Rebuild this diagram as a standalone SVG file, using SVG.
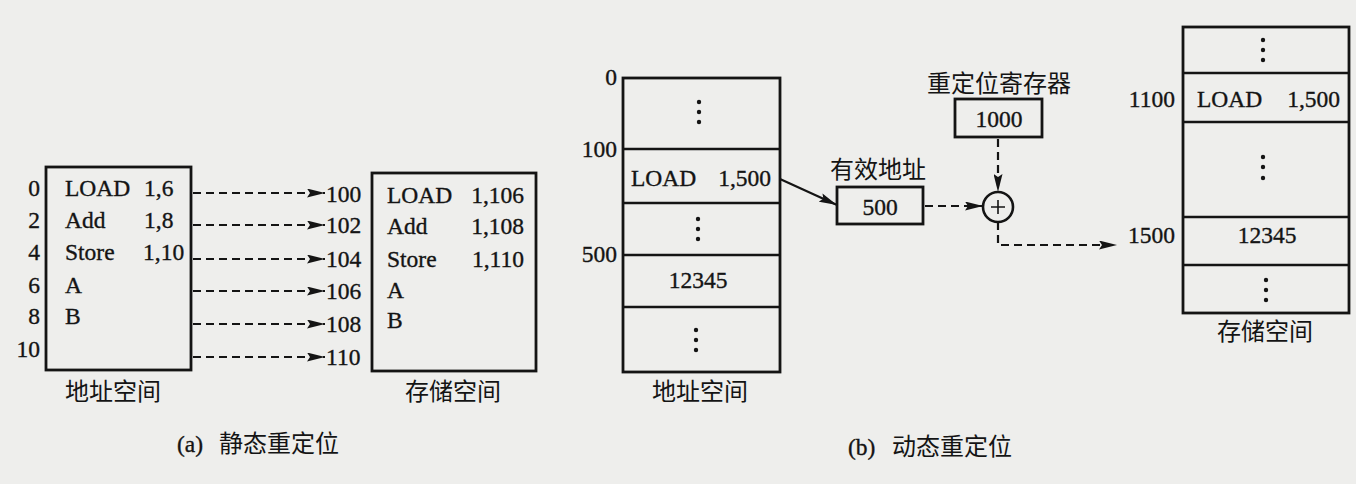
<svg xmlns="http://www.w3.org/2000/svg" width="1356" height="484" viewBox="0 0 1356 484">
  <style>
    .bg { fill: #eeeeec; }
    .box { fill: none; stroke: #141414; stroke-width: 2.8; }
    .div { stroke: #141414; stroke-width: 2.5; }
    .t { font-family: "Liberation Serif", "Noto Sans CJK SC", serif; font-size: 23.5px; fill: #141414; stroke: #141414; stroke-width: 0.35; }
    .r { text-anchor: end; }
    .m { text-anchor: middle; }
    .cjk { font-family: "Noto Sans CJK SC", "Liberation Serif", sans-serif; font-size: 24px; fill: #141414; }
    .dash { fill: none; stroke: #141414; stroke-width: 2.2; stroke-dasharray: 8 5; }
    .solid { fill: none; stroke: #141414; stroke-width: 2.2; }
    .dot { fill: #141414; }
  </style>
  <defs>
    <marker id="arrow" viewBox="0 0 18 9" refX="18" refY="4.5" markerWidth="18" markerHeight="9" markerUnits="userSpaceOnUse" orient="auto">
      <path d="M0,0 L18,4.5 L0,9 L3,4.5 z" fill="#141414"/>
    </marker>
  </defs>

  <rect class="bg" x="0" y="0" width="1356" height="484"/>

  <!-- (a) static relocation: program address space -->
  <g id="static-address-space">
    <rect class="box" x="46" y="167" width="145" height="203"/>
    <text class="t r" x="40" y="196">0</text>
    <text class="t r" x="40" y="228">2</text>
    <text class="t r" x="40" y="260">4</text>
    <text class="t r" x="40" y="293">6</text>
    <text class="t r" x="40" y="324">8</text>
    <text class="t r" x="40" y="357">10</text>
    <text class="t" x="65" y="196">LOAD</text><text class="t" x="144" y="196">1,6</text>
    <text class="t" x="65" y="228">Add</text><text class="t" x="144" y="228">1,8</text>
    <text class="t" x="65" y="260">Store</text><text class="t" x="143" y="260">1,10</text>
    <text class="t" x="65" y="293">A</text>
    <text class="t" x="65" y="324">B</text>
    <text class="cjk m" x="113" y="400">地址空间</text>
  </g>

  <!-- (a) static relocation: physical storage -->
  <g id="static-storage-space">
    <rect class="box" x="372" y="173" width="164" height="198"/>
    <text class="t" x="326" y="202">100</text>
    <text class="t" x="326" y="233">102</text>
    <text class="t" x="326" y="267">104</text>
    <text class="t" x="326" y="299">106</text>
    <text class="t" x="326" y="332">108</text>
    <text class="t" x="326" y="365">110</text>
    <text class="t" x="387" y="203">LOAD</text><text class="t r" x="524" y="203">1,106</text>
    <text class="t" x="387" y="234">Add</text><text class="t r" x="524" y="234">1,108</text>
    <text class="t" x="387" y="267">Store</text><text class="t r" x="524" y="267">1,110</text>
    <text class="t" x="387" y="298">A</text>
    <text class="t" x="387" y="328">B</text>
    <text class="cjk m" x="453" y="400">存储空间</text>
  </g>

  <g id="caption-a">
    <text class="t" x="177" y="452">(a)</text>
    <text class="cjk" x="219" y="452">静态重定位</text>
  </g>

  <!-- (b) dynamic relocation: program address space -->
  <g id="dynamic-address-space">
    <rect class="box" x="623" y="78" width="157" height="294"/>
    <line class="div" x1="623" y1="149" x2="780" y2="149"/>
    <line class="div" x1="623" y1="203" x2="780" y2="203"/>
    <line class="div" x1="623" y1="255" x2="780" y2="255"/>
    <line class="div" x1="623" y1="307" x2="780" y2="307"/>
    <text class="t r" x="617" y="85">0</text>
    <text class="t r" x="617" y="157">100</text>
    <text class="t r" x="617" y="262">500</text>
    <circle class="dot" cx="699" cy="102" r="2.2"/><circle class="dot" cx="699" cy="112" r="2.2"/><circle class="dot" cx="699" cy="122" r="2.2"/>
    <text class="t" x="631" y="186">LOAD</text><text class="t r" x="771" y="186">1,500</text>
    <circle class="dot" cx="698" cy="219" r="2.2"/><circle class="dot" cx="698" cy="229" r="2.2"/><circle class="dot" cx="698" cy="239" r="2.2"/>
    <text class="t m" x="698" y="288">12345</text>
    <circle class="dot" cx="696" cy="330" r="2.2"/><circle class="dot" cx="696" cy="340" r="2.2"/><circle class="dot" cx="696" cy="350" r="2.2"/>
    <text class="cjk m" x="700" y="400">地址空间</text>
  </g>

  <g id="effective-address">
    <text class="cjk" x="830" y="178">有效地址</text>
    <rect class="box" x="837" y="187" width="86" height="37"/>
    <text class="t m" x="880" y="215">500</text>
  </g>

  <g id="relocation-register">
    <text class="cjk" x="927" y="92">重定位寄存器</text>
    <rect class="box" x="955" y="99" width="87" height="38"/>
    <text class="t m" x="999" y="127">1000</text>
  </g>

  <g id="adder">
    <circle cx="998" cy="207" r="15" fill="none" stroke="#141414" stroke-width="2.6"/>
    <path d="M991,207 H1005 M998,200 V214" stroke="#141414" stroke-width="1.6"/>
  </g>

  <!-- (b) dynamic relocation: physical storage -->
  <g id="dynamic-storage-space">
    <rect class="box" x="1183" y="27" width="166" height="286"/>
    <line class="div" x1="1183" y1="73" x2="1349" y2="73"/>
    <line class="div" x1="1183" y1="122" x2="1349" y2="122"/>
    <line class="div" x1="1183" y1="217" x2="1349" y2="217"/>
    <line class="div" x1="1183" y1="265" x2="1349" y2="265"/>
    <circle class="dot" cx="1263" cy="40" r="2.2"/><circle class="dot" cx="1263" cy="50" r="2.2"/><circle class="dot" cx="1263" cy="60" r="2.2"/>
    <text class="t r" x="1175" y="107">1100</text>
    <text class="t" x="1197" y="107">LOAD</text><text class="t r" x="1340" y="107">1,500</text>
    <circle class="dot" cx="1263" cy="157" r="2.2"/><circle class="dot" cx="1263" cy="167" r="2.2"/><circle class="dot" cx="1263" cy="178" r="2.2"/>
    <text class="t r" x="1175" y="243">1500</text>
    <text class="t m" x="1267" y="243">12345</text>
    <circle class="dot" cx="1266" cy="280" r="2.2"/><circle class="dot" cx="1266" cy="290" r="2.2"/><circle class="dot" cx="1266" cy="300" r="2.2"/>
    <text class="cjk m" x="1265" y="340">存储空间</text>
  </g>

  <g id="caption-b">
    <text class="t" x="848" y="455">(b)</text>
    <text class="cjk" x="892" y="455">动态重定位</text>
  </g>

  <g id="connectors">
    <!-- static relocation: each word moved up by 100 -->
    <line class="dash" x1="193" y1="193" x2="325" y2="193" marker-end="url(#arrow)"/>
    <line class="dash" x1="193" y1="225" x2="325" y2="225" marker-end="url(#arrow)"/>
    <line class="dash" x1="193" y1="259" x2="325" y2="259" marker-end="url(#arrow)"/>
    <line class="dash" x1="193" y1="291" x2="325" y2="291" marker-end="url(#arrow)"/>
    <line class="dash" x1="193" y1="324" x2="325" y2="324" marker-end="url(#arrow)"/>
    <line class="dash" x1="193" y1="357" x2="325" y2="357" marker-end="url(#arrow)"/>
    <!-- dynamic relocation path -->
    <line class="solid" x1="780" y1="179" x2="837" y2="205" marker-end="url(#arrow)"/>
    <line class="dash" x1="925" y1="206" x2="983" y2="206" marker-end="url(#arrow)"/>
    <line class="dash" x1="998" y1="139" x2="998" y2="192" marker-end="url(#arrow)"/>
    <path class="dash" d="M998,222 V245 H1117" marker-end="url(#arrow)"/>
  </g>
</svg>
